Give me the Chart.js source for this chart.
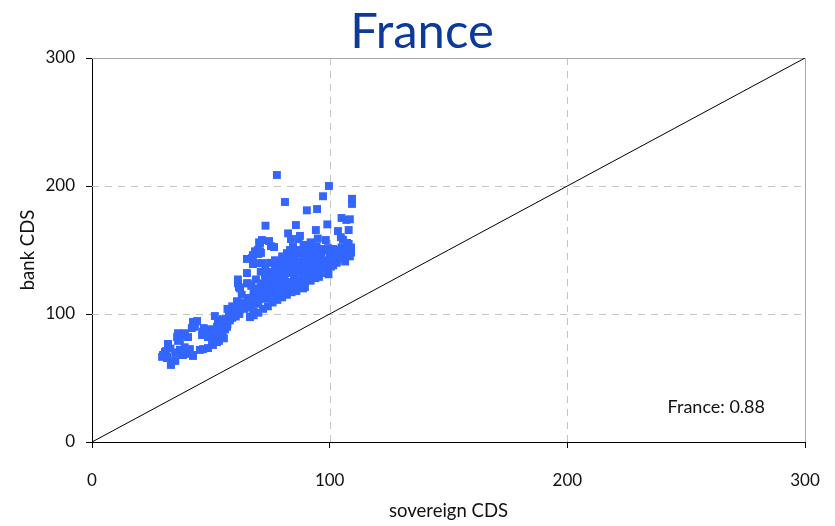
<!DOCTYPE html>
<html>
<head>
<meta charset="utf-8">
<script src="https://cdn.jsdelivr.net/npm/chart.js@4/dist/chart.umd.min.js"></script>
<style>
  html, body { margin: 0; padding: 0; background: #fff; }
  #wrap { width: 835px; height: 526px; }
</style>
</head>
<body>
<div id="wrap"><canvas id="c" width="835" height="526"></canvas></div>
<script>
// Sovereign CDS (x) vs bank CDS (y), basis points
const sovereignCDS = [
  29.9,30.7,31.1,29.5,31.6,32,33.2,33.2,35,31.5,35,32,36.2,35.8,36.2,37,37.9,38.3,39,39,40.4,40.4,41.2,42.5,42.5,42,43.3,42.5,44.2,45.4,46.7,46.3,46.7,48.8,48.8,49.6,50.5,50.9,50.9,51.7,52.6,52.6,53,53.4,53,54.7,55,56.8,55.5,57.6,58.9,58,
  56,57,58,59,60,61,62,63.5,60.5,62,64,65,66,65.6,67.7,69.8,66.5,68,67,69,70,71,68,70,61.4,65.2,61.8,62.3,65.6,65.2,61.4,65.2,67.7,69.4,67.3,68.6,69.8,70.3,70.7,71.5,74.5,75.3,76.6,73,67.7,70,70.7,68.6,71.1,71.9,72.8,75.7,
  72,73,74,75,76,77,78,79,80,81,82,83,84,85,86,87,88,89,90,91,92,93,72,73,74,76,78,79,80,82,84,86,77,79,81.2,82,83.3,84.6,84.6,84.6,73,75,77,79,81,83,85,87,89,91,93,88.8,86,84,82,80,78,76,74,72,70,68,66.5,
  85.8,82.5,83.7,87,87.5,90,93.8,97.6,99.3,101.4,103,106,95,98.4,94.2,99,103.5,108,104.7,105.6,107.3,108,105,107,108.5,109.4,109.4,90.4,94.7,97.2,99.7,81.2,77.8,94,96,98,100,102,104,95,97,99,101,96,98,99,95,90,92,94,97.5,99.5,100.5,103,105,107,109,105,108,99.3,101.4,89.6,
  74,75.5,77.5,78.5,80.5,81.5,83.5,85.5,87.5,89.5,91.5,93.5,76.5,78,80,82.5,85,87,89,91,92.5,71,72.5,76,78.5,80.5,82.5,85,87,89.5,91.5,93.5,95.5,97,98.5,100,101.5,103,104.5,106,107.5,109,106.5,108.5,96.5,98,94.5,92,89,86,83,80,77,75,73,71,69,67,63,61,59,57,55,53,51,49,47,39,37,35,33
];
const bankCDS = [
  68,70.3,71,66.5,66.4,75.8,61,60.2,63.3,65.6,64,76.6,79,82,85,79.7,68,68,83.6,85,82,68.8,72.6,68,67.2,89,90,93.8,94.5,71.9,72.6,83.6,86,73.4,82,85,78,75.8,83.6,98.4,90,78,85,79,91.4,91.4,83.6,90,81,100.8,103.9,101.6,
  88,92,95,97,99,106,103,108.6,98,100,104,107,110,112.5,113,115,98,102,105,108,110,112,118,120,124,124,121,120,124,132,127,143,139,139.8,143.7,148.4,150,156,155.5,157.8,157,153,152.3,169,146,146.9,149,149,147.7,139.8,130.5,132.8,
  114,117,120,122,118,124,126,122,128,130,125,132,134,130,136,133,138,135,140,137,142,138,124,127,130,128,133,136,138,140,142,140,136.7,138,142,147.6,150,152.3,152,148,112,115,117,119,121,123,125,127,130,132,134,120,118,117,115,113,111,109,106,104,101,99,97.6,
  169.5,163,158.6,158.6,161,149,148.4,150.8,151.5,150.8,150,150.8,159,157.8,165.6,170,164.8,165.6,160,158,155.5,154.7,175,173.5,174,190,186,181,182,192,200,187.5,208.6,141,144,142,145,146,147,137,139,140,143,135,137,133,131,128,126,128,132,131,137,140,143,146,148,152,150,140.6,141,121,
  125,127,129,131,133,135,137,139,141,143,145,146,133,139,141,144,145,147,148,150,152,121,122,112,114,117,119,121,123,125,128,131,129,133,136,139,138,142,144,147,149,152,141,145,148,150,153,156,154,150,146,145,142,140,136,133,127,122,115,110,106,104,96,94,88,88,89,74,72,70,73
];
const axisTicks = [0, 100, 200, 300];
const diagonal = [0, 300];
const countryLabel = 'France';
const correlationLabel = 'France: 0.88';

const FONT = 'Lato, "Open Sans", "DejaVu Sans", sans-serif';

const scatterPoints = sovereignCDS.map((x, i) => ({ x: x, y: bankCDS[i] }));
const diagonalPoints = diagonal.map(v => ({ x: v, y: v }));

// Title, dashed grid at inner ticks, light frame on top/right, and the correlation note
const framePlugin = {
  id: 'frame',
  beforeDatasetsDraw(chart) {
    const { ctx, chartArea: a, scales: { x, y } } = chart;
    ctx.save();
    ctx.strokeStyle = '#c4c4c4';
    ctx.lineWidth = 1;
    ctx.setLineDash([7, 6]);
    axisTicks.slice(1, -1).forEach(v => {
      const px = Math.round(x.getPixelForValue(v)) + 0.5;
      ctx.beginPath(); ctx.moveTo(px, a.top); ctx.lineTo(px, a.bottom); ctx.stroke();
      const py = Math.round(y.getPixelForValue(v)) + 0.5;
      ctx.beginPath(); ctx.moveTo(a.left, py); ctx.lineTo(a.right, py); ctx.stroke();
    });
    ctx.setLineDash([]);
    ctx.strokeStyle = '#a8a8a8';
    ctx.beginPath();
    ctx.moveTo(a.left, Math.round(a.top) + 0.5);
    ctx.lineTo(Math.round(a.right) + 0.5, Math.round(a.top) + 0.5);
    ctx.lineTo(Math.round(a.right) + 0.5, a.bottom);
    ctx.stroke();
    ctx.restore();
  },
  afterDraw(chart) {
    const { ctx, chartArea: a } = chart;
    ctx.save();
    ctx.fillStyle = '#111';
    ctx.font = '18px ' + FONT;
    ctx.textAlign = 'right';
    ctx.textBaseline = 'middle';
    ctx.fillText(correlationLabel, a.right - 40, a.bottom - 35);
    ctx.fillStyle = '#0b3a9a';
    ctx.font = '49px ' + FONT;
    ctx.textAlign = 'center';
    ctx.textBaseline = 'alphabetic';
    ctx.fillText(countryLabel, 422, 48);
    ctx.restore();
  }
};

new Chart(document.getElementById('c'), {
  type: 'scatter',
  data: {
    datasets: [
      {
        label: 'bank vs sovereign',
        data: scatterPoints,
        pointStyle: 'rect',
        pointRadius: 5.6,
        pointHoverRadius: 5.6,
        pointBackgroundColor: '#3366ff',
        pointBorderColor: '#3366ff',
        pointBorderWidth: 0,
        order: 0
      },
      {
        type: 'line',
        label: '45°',
        data: diagonalPoints,
        borderColor: '#000',
        borderWidth: 1,
        pointRadius: 0,
        fill: false,
        order: 1
      }
    ]
  },
  options: {
    responsive: false,
    animation: false,
    devicePixelRatio: 1,
    layout: { padding: { left: 0, right: 30, top: 58, bottom: 0 } },
    plugins: {
      legend: { display: false },
      tooltip: { enabled: false },
      title: { display: false }
    },
    scales: {
      x: {
        type: 'linear',
        min: 0, max: 300,
        afterFit(s) { s.height = 84; s.paddingRight = 0; s.paddingLeft = 0; },
        afterBuildTicks(s) { s.ticks = axisTicks.map(v => ({ value: v })); },
        grid: { drawOnChartArea: false, drawTicks: true, tickLength: 6, tickColor: '#000', color: '#000' },
        border: { display: true, color: '#000', width: 1 },
        ticks: { color: '#111', padding: 22, font: { family: FONT, size: 17 }, maxRotation: 0 },
        title: { display: true, text: 'sovereign CDS', color: '#111', font: { family: FONT, size: 18.5 }, padding: { top: 0, bottom: 4 } }
      },
      y: {
        type: 'linear',
        min: 0, max: 300,
        afterFit(s) { s.width = 92; s.paddingTop = 0; s.paddingBottom = 0; },
        afterBuildTicks(s) { s.ticks = axisTicks.map(v => ({ value: v })); },
        grid: { drawOnChartArea: false, drawTicks: true, tickLength: 6, tickColor: '#000', color: '#000' },
        border: { display: true, color: '#000', width: 1 },
        ticks: { color: '#111', padding: 11, font: { family: FONT, size: 17 } },
        title: { display: true, text: 'bank CDS', color: '#111', font: { family: FONT, size: 18.5 }, padding: { top: 17, bottom: 0 } }
      }
    }
  },
  plugins: [framePlugin]
});
</script>
</body>
</html>
